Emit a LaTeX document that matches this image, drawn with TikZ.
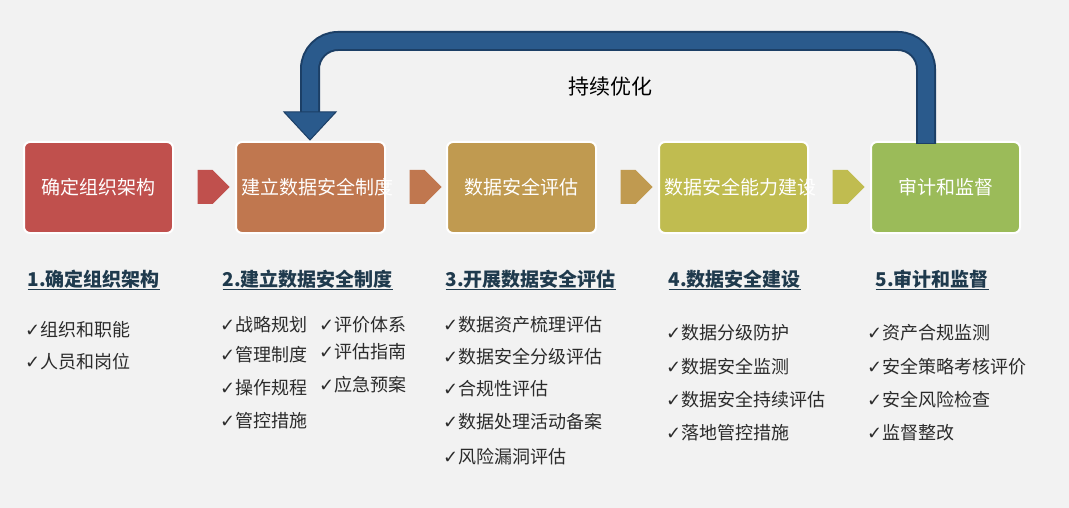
\documentclass[tikz,border=0pt]{standalone}
\usepackage{fontspec}
\setmainfont{Noto Sans CJK SC}
\newfontfamily\djvfont{DejaVu Sans}
\usetikzlibrary{shapes.arrows}
\definecolor{bgc}{HTML}{F2F2F2}
\definecolor{cA}{HTML}{C0504D}
\definecolor{cB}{HTML}{C0774F}
\definecolor{cC}{HTML}{C09A50}
\definecolor{cD}{HTML}{C0BC50}
\definecolor{cE}{HTML}{9BBB59}
\definecolor{blu}{HTML}{2A5A8C}
\definecolor{bluD}{HTML}{1C3F66}
\definecolor{hd}{HTML}{1F3A4D}
\definecolor{tx}{HTML}{2B2B2B}
\begin{document}
\begin{tikzpicture}[x=1pt,y=-1pt,
 box/.style={draw=white,line width=2pt,rounded corners=6pt,minimum width=149pt,minimum height=91pt,text width=138pt,align=center,text=white,font=\fontsize{19}{30}\selectfont},
 barr/.style={single arrow,minimum width=34pt,single arrow head extend=0pt,minimum height=32pt,inner sep=0pt,shape border rotate=0},
 hd/.style={anchor=west,text=hd,font=\bfseries\fontsize{19}{22}\selectfont},
 it/.style={anchor=west,text=tx,font=\fontsize{18}{20}\selectfont,inner sep=1pt}]
\fill[bgc] (0,0) rectangle (1069,508);
\useasboundingbox (0,0) rectangle (1069,508);
\node[box,fill=cA] (b1) at (98.5,187.5) {确定组织架构};
\node[box,fill=cB] (b2) at (310.5,187.5) {建立数据安全制度};
\node[box,fill=cC] (b3) at (521.5,187.5) {数据安全评估};
\node[box,fill=cD] (b4) at (733.5,187.5) {数据安全能力建设};
\node[box,fill=cE] (b5) at (945.5,187.5) {审计和监督};
\node[barr,fill=cA] (a1) at (205,187) {};
\node[barr,fill=cB] (a2) at (417,187) {};
\node[barr,fill=cC] (a3) at (628,187) {};
\node[barr,fill=cD] (a4) at (840,187) {};
% feedback arrow
\draw[bluD,line width=20pt,rounded corners=28pt] (926,144) -- (926,41) -- (310,41) -- (310,113);
\draw[blu,line width=16pt,rounded corners=28pt] (926,143) -- (926,41) -- (310,41) -- (310,114);
\fill[blu,draw=bluD,line width=1pt] (284,112) -- (336,112) -- (310,140) -- cycle;
\node[text=black,font=\fontsize{21}{24}\selectfont] (t) at (610,87) {持续优化};
% headings
\node[hd] (h1) at (24,280) {\underline{1.确定组织架构}};
\node[hd] (h2) at (219,280) {\underline{2.建立数据安全制度}};
\node[hd] (h3) at (442,280) {\underline{3.开展数据安全评估}};
\node[hd] (h4) at (665,280) {\underline{4.数据安全建设}};
\node[hd] (h5) at (872,280) {\underline{5.审计和监督}};
\newcommand{\ck}{{\djvfont\fontsize{18}{18}\selectfont ✓}}
\node[it] (i11) at (24,330) {\ck 组织和职能};
\node[it] (i12) at (24,362) {\ck 人员和岗位};
\node[it] (i21) at (219,325) {\ck 战略规划};
\node[it] (i22) at (219,355) {\ck 管理制度};
\node[it] (i23) at (219,388) {\ck 操作规程};
\node[it] (i24) at (219,421) {\ck 管控措施};
\node[it] (i25) at (318,325) {\ck 评价体系};
\node[it] (i26) at (318,352) {\ck 评估指南};
\node[it] (i27) at (318,385) {\ck 应急预案};
\node[it] (i31) at (442,325) {\ck 数据资产梳理评估};
\node[it] (i32) at (442,357) {\ck 数据安全分级评估};
\node[it] (i33) at (442,389) {\ck 合规性评估};
\node[it] (i34) at (442,422) {\ck 数据处理活动备案};
\node[it] (i35) at (442,457) {\ck 风险漏洞评估};
\node[it] (i41) at (665,333) {\ck 数据分级防护};
\node[it] (i42) at (665,367) {\ck 数据安全监测};
\node[it] (i43) at (665,400) {\ck 数据安全持续评估};
\node[it] (i44) at (665,433) {\ck 落地管控措施};
\node[it] (i51) at (866,333) {\ck 资产合规监测};
\node[it] (i52) at (866,367) {\ck 安全策略考核评价};
\node[it] (i53) at (866,400) {\ck 安全风险检查};
\node[it] (i54) at (866,433) {\ck 监督整改};
\end{tikzpicture}
\end{document}
